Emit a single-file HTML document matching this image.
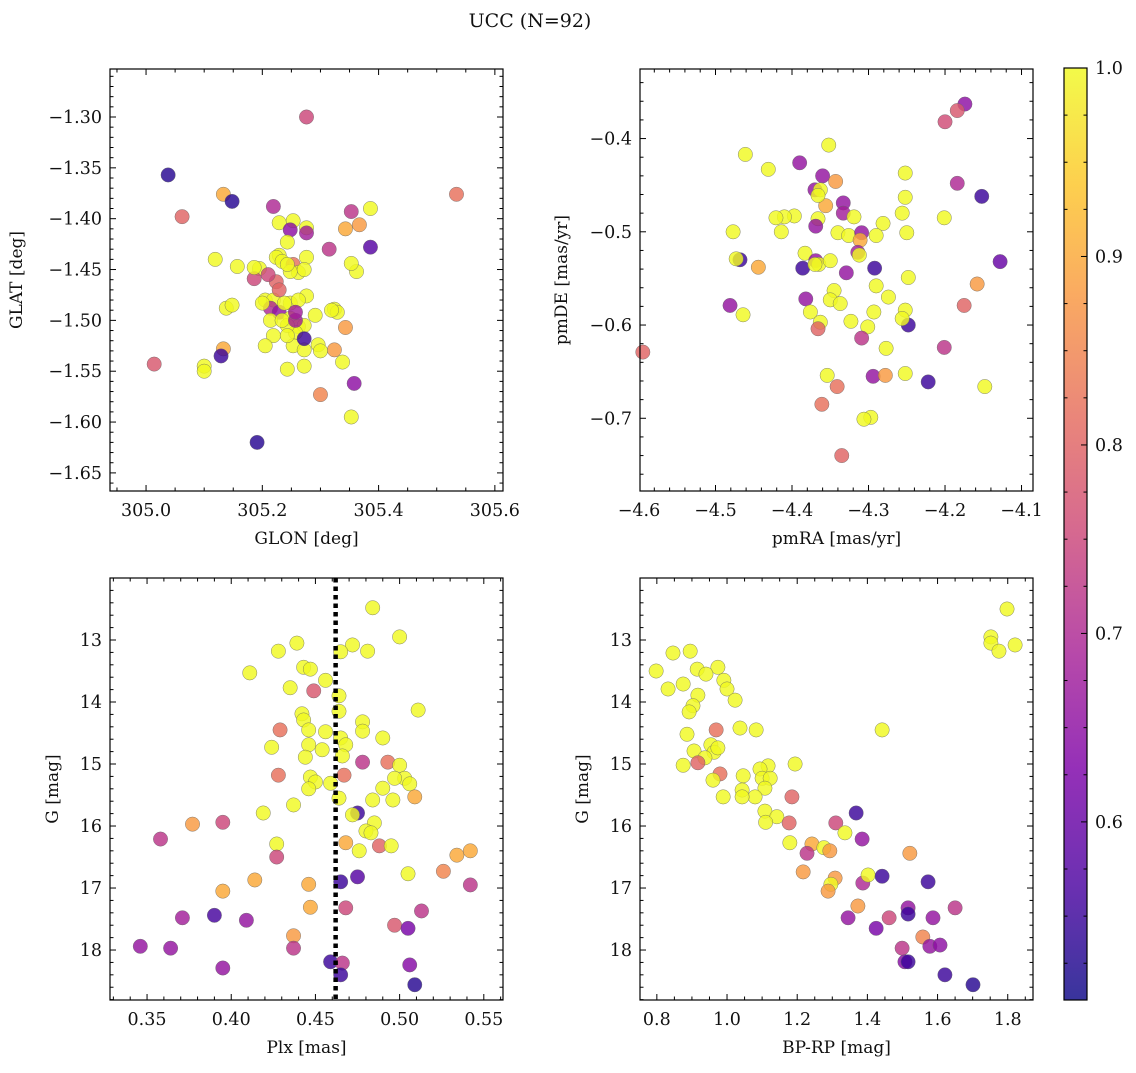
<!DOCTYPE html>
<html><head><meta charset="utf-8"><style>
html,body{margin:0;padding:0;background:#fff;}
svg text{font-family:"DejaVu Serif","Liberation Serif",serif;fill:#111;}
</style></head><body>
<svg id="chart" width="1136" height="1068" viewBox="0 0 1136 1068" xmlns="http://www.w3.org/2000/svg">
<defs>
<linearGradient id="plasma" x1="0" y1="1" x2="0" y2="0">
<stop offset="0" stop-color="#0d0887"/><stop offset="0.125" stop-color="#4c02a1"/><stop offset="0.25" stop-color="#7e03a8"/><stop offset="0.375" stop-color="#a82296"/><stop offset="0.5" stop-color="#cc4778"/><stop offset="0.625" stop-color="#e56b5d"/><stop offset="0.75" stop-color="#f89540"/><stop offset="0.875" stop-color="#fdc527"/><stop offset="1" stop-color="#f0f921"/>
</linearGradient>
</defs>
<text x="530" y="27" font-size="19" text-anchor="middle">UCC (N=92)</text>
</svg>
<script>
// ---------- data ----------
const glon=[305.276,305.038,305.133,305.148,305.062,305.534,305.219,305.386,305.353,305.367,305.343,305.253,305.229,305.276,305.276,305.248,305.315,305.386,305.195,305.243,305.229,305.224,305.234,305.253,305.262,305.248,305.276,305.243,305.272,305.186,305.224,305.205,305.219,305.214,305.229,305.248,305.276,305.324,305.329,305.319,305.214,305.248,305.262,305.272,305.257,305.243,305.219,305.253,305.272,305.296,305.324,305.343,305.338,305.362,305.353,305.138,305.148,305.133,305.129,305.100,305.100,305.119,305.014,305.243,305.272,305.300,305.300,305.358,305.353,305.191,305.234,305.238,305.229,305.262,305.200,305.272,305.210,305.157,305.186,305.291,305.205,305.257,305.257,305.243];
const glat=[-1.300,-1.357,-1.376,-1.383,-1.398,-1.376,-1.388,-1.390,-1.393,-1.406,-1.410,-1.402,-1.404,-1.409,-1.414,-1.411,-1.430,-1.428,-1.449,-1.423,-1.436,-1.438,-1.442,-1.445,-1.453,-1.452,-1.438,-1.445,-1.450,-1.459,-1.462,-1.480,-1.480,-1.488,-1.492,-1.483,-1.476,-1.489,-1.492,-1.490,-1.500,-1.498,-1.506,-1.505,-1.512,-1.505,-1.515,-1.525,-1.529,-1.524,-1.529,-1.507,-1.541,-1.452,-1.444,-1.488,-1.485,-1.528,-1.535,-1.545,-1.550,-1.440,-1.543,-1.548,-1.545,-1.530,-1.573,-1.562,-1.595,-1.620,-1.500,-1.483,-1.470,-1.480,-1.483,-1.518,-1.455,-1.447,-1.448,-1.495,-1.525,-1.500,-1.492,-1.515];
const prob1=[0.75,0.53,0.90,0.53,0.80,0.82,0.70,1,0.72,0.88,0.90,1,1,1,0.68,0.65,0.72,0.58,1,1,1,1,1,0.82,1,1,1,1,1,0.75,0.80,1,1,0.70,0.66,1,1,1,1,1,1,1,1,1,1,1,1,1,1,1,0.88,0.88,1,1,1,1,1,0.90,0.55,1,1,1,0.78,1,1,1,0.85,0.65,1,0.53,1,1,0.80,1,1,0.55,0.75,1,1,1,1,0.68,0.68,1];

const pmra=[-4.174,-4.200,-4.184,-4.461,-4.390,-4.352,-4.431,-4.360,-4.370,-4.363,-4.343,-4.252,-4.184,-4.152,-4.252,-4.256,-4.333,-4.356,-4.333,-4.366,-4.397,-4.410,-4.421,-4.477,-4.414,-4.366,-4.369,-4.340,-4.326,-4.309,-4.319,-4.281,-4.290,-4.311,-4.314,-4.312,-4.250,-4.201,-4.468,-4.473,-4.386,-4.383,-4.369,-4.365,-4.350,-4.370,-4.444,-4.292,-4.329,-4.345,-4.248,-4.290,-4.158,-4.350,-4.382,-4.274,-4.337,-4.481,-4.175,-4.128,-4.252,-4.293,-4.464,-4.376,-4.363,-4.323,-4.366,-4.301,-4.248,-4.256,-4.309,-4.277,-4.201,-4.595,-4.354,-4.294,-4.278,-4.252,-4.222,-4.341,-4.148,-4.361,-4.297,-4.306,-4.335];
const pmde=[-0.363,-0.382,-0.370,-0.417,-0.426,-0.407,-0.433,-0.440,-0.455,-0.455,-0.446,-0.437,-0.448,-0.462,-0.463,-0.480,-0.469,-0.472,-0.480,-0.461,-0.483,-0.484,-0.485,-0.500,-0.500,-0.486,-0.494,-0.501,-0.504,-0.501,-0.484,-0.491,-0.504,-0.509,-0.522,-0.525,-0.501,-0.485,-0.530,-0.529,-0.539,-0.523,-0.531,-0.535,-0.531,-0.535,-0.538,-0.539,-0.544,-0.563,-0.549,-0.558,-0.556,-0.573,-0.572,-0.570,-0.577,-0.579,-0.579,-0.532,-0.584,-0.586,-0.589,-0.586,-0.597,-0.596,-0.604,-0.602,-0.600,-0.593,-0.614,-0.625,-0.624,-0.629,-0.654,-0.655,-0.654,-0.652,-0.661,-0.666,-0.666,-0.685,-0.699,-0.701,-0.740];
const prob2=[0.65,0.76,0.78,1,0.66,1,1,0.66,0.66,1,0.88,1,0.70,0.55,1,1,0.66,0.90,0.68,1,1,1,1,1,1,1,0.66,1,1,0.66,1,1,1,0.90,0.68,1,1,1,0.55,1,0.55,1,0.66,1,1,1,0.90,0.55,0.66,1,1,1,0.88,1,0.66,1,1,0.66,0.80,0.60,1,1,1,1,1,1,0.80,1,0.55,1,0.72,1,0.72,0.80,1,0.66,0.88,1,0.55,0.82,1,0.82,1,1,0.80];

const plx=[0.484,0.500,0.472,0.439,0.428,0.465,0.481,0.411,0.443,0.447,0.456,0.435,0.449,0.464,0.464,0.511,0.442,0.443,0.478,0.429,0.446,0.456,0.465,0.478,0.446,0.424,0.454,0.468,0.490,0.444,0.478,0.493,0.466,0.500,0.447,0.428,0.467,0.503,0.506,0.497,0.450,0.459,0.446,0.490,0.509,0.437,0.419,0.464,0.484,0.496,0.475,0.472,0.485,0.358,0.377,0.395,0.480,0.483,0.427,0.488,0.495,0.468,0.427,0.476,0.534,0.542,0.465,0.414,0.526,0.395,0.475,0.542,0.505,0.446,0.447,0.468,0.371,0.390,0.409,0.513,0.437,0.437,0.497,0.505,0.346,0.364,0.395,0.459,0.466,0.465,0.506,0.509];
const gmagP=[12.48,12.95,13.08,13.05,13.18,13.19,13.18,13.53,13.44,13.47,13.65,13.77,13.82,13.90,14.15,14.13,14.19,14.29,14.32,14.45,14.45,14.48,14.58,14.47,14.69,14.73,14.77,14.69,14.58,14.89,14.97,14.97,14.87,15.02,15.21,15.18,15.18,15.23,15.32,15.23,15.29,15.31,15.40,15.39,15.53,15.66,15.79,15.55,15.58,15.58,15.79,15.82,15.95,16.21,15.97,15.94,16.08,16.11,16.29,16.32,16.32,16.27,16.50,16.40,16.47,16.40,16.90,16.87,16.73,17.05,16.82,16.95,16.77,16.94,17.31,17.32,17.48,17.44,17.52,17.37,17.77,17.97,17.60,17.65,17.94,17.97,18.29,18.19,18.21,18.40,18.24,18.56];
const prob3=[1,1,1,1,1,1,1,1,1,1,1,1,0.78,1,1,1,1,1,1,0.82,1,1,1,1,1,1,1,1,1,1,0.72,0.82,1,1,1,0.82,0.82,1,1,1,1,1,1,1,0.90,1,1,1,1,1,0.55,1,1,0.72,0.88,0.75,1,1,1,0.80,1,0.90,0.75,1,0.90,0.90,0.55,0.90,0.85,0.90,0.58,0.72,1,0.90,0.90,0.75,0.68,0.56,0.66,0.72,0.88,0.72,0.78,0.62,0.66,0.66,0.66,0.55,0.72,0.55,0.64,0.53];
const plxRef=[0.462];

const bprp=[1.798,1.752,1.752,1.775,1.821,0.846,0.895,0.798,0.974,0.915,0.940,0.991,0.832,0.875,1.000,0.917,1.023,0.903,0.892,1.037,1.083,1.442,0.969,0.886,0.954,0.963,0.974,0.906,0.937,0.917,0.875,1.117,1.094,1.194,1.100,1.046,1.123,0.980,0.960,1.043,1.108,1.080,1.043,0.989,1.185,1.108,1.142,1.110,1.177,1.310,1.368,1.336,1.385,1.179,1.242,1.276,1.293,1.228,1.521,1.217,1.308,1.296,1.288,1.387,1.402,1.442,1.573,1.373,1.345,1.462,1.516,1.516,1.650,1.587,1.425,1.558,1.499,1.578,1.607,1.507,1.516,1.621,1.701];
const gmagC=[12.50,12.95,13.05,13.18,13.08,13.21,13.18,13.50,13.44,13.47,13.55,13.65,13.79,13.71,13.79,13.89,13.97,14.06,14.16,14.42,14.45,14.45,14.45,14.52,14.69,14.81,14.74,14.79,14.90,14.98,15.02,15.03,15.08,15.00,15.23,15.19,15.23,15.16,15.26,15.42,15.39,15.53,15.53,15.53,15.53,15.76,15.85,15.94,15.95,15.95,15.79,16.11,16.21,16.27,16.29,16.35,16.40,16.44,16.44,16.74,16.84,16.94,17.05,16.92,16.79,16.81,16.90,17.29,17.48,17.48,17.32,17.42,17.32,17.48,17.65,17.79,17.97,17.94,17.92,18.19,18.19,18.40,18.56];
const prob4=[1,1,1,1,1,1,1,1,1,1,1,1,1,1,1,1,1,1,1,1,1,1,0.82,1,1,1,1,1,1,0.80,1,1,1,1,1,1,1,0.82,1,1,1,1,1,1,0.80,1,1,1,0.80,0.75,0.55,1,0.66,1,0.90,1,0.88,0.72,0.88,0.88,0.88,1,0.88,0.70,1,0.55,0.55,0.88,0.66,0.75,0.66,0.55,0.72,0.66,0.62,0.85,0.72,0.66,0.65,0.64,0.55,0.55,0.53];

const cbTicks=[0.6,0.7,0.8,0.9,1.0];
const xt1=[305.0,305.2,305.4,305.6], yt1=[-1.30,-1.35,-1.40,-1.45,-1.50,-1.55,-1.60,-1.65];
const xt2=[-4.6,-4.5,-4.4,-4.3,-4.2,-4.1], yt2=[-0.4,-0.5,-0.6,-0.7];
const xt3=[0.35,0.40,0.45,0.50,0.55], yt3=[13,14,15,16,17,18];
const xt4=[0.8,1.0,1.2,1.4,1.6,1.8];

// ---------- helpers ----------
const NS="http://www.w3.org/2000/svg";
const svg=document.getElementById('chart');
function mk(tag,attrs,parent){const e=document.createElementNS(NS,tag);for(const k in attrs)e.setAttribute(k,attrs[k]);(parent||svg).appendChild(e);return e;}
const stops=[[0,[13,8,135]],[0.125,[76,2,161]],[0.25,[126,3,168]],[0.375,[168,34,150]],[0.5,[204,71,120]],[0.625,[229,107,93]],[0.75,[248,149,64]],[0.875,[253,197,39]],[1,[240,249,33]]];
const VMIN=0.5055,VMAX=1.0;
function cmap(p){let t=(p-VMIN)/(VMAX-VMIN);t=Math.max(0,Math.min(1,t));for(let i=1;i<stops.length;i++){if(t<=stops[i][0]){const a=stops[i-1],b=stops[i],f=(t-a[0])/(b[0]-a[0]);const c=a[1].map((v,j)=>Math.round(v+(b[1][j]-v)*f));return `rgb(${c[0]},${c[1]},${c[2]})`;}}return 'rgb(240,249,33)';}
function lin(d0,d1,r0,r1){return v=>r0+(v-d0)/(d1-d0)*(r1-r0);}
function fmt(v,d){return (v<0?'\u2212':'')+Math.abs(v).toFixed(d);}

function panel(o){
  const g=mk('g',{});
  
  
  const X=lin(o.xd[0],o.xd[1],o.x0,o.x1), Y=lin(o.yd[0],o.yd[1],o.y0,o.y1);
  const pts=mk('g',{},g);
  
  
  for(let i=0;i<o.xs.length;i++){
    const c=mk('circle',{cx:X(o.xs[i]),cy:Y(o.ys[i]),r:7.2,fill:cmap(o.ps[i]),'fill-opacity':0.82,stroke:'#666','stroke-width':0.5,'stroke-opacity':0.8},pts);
    
    
  }
  if(o.extra)o.extra(g,X,Y);
  const fr=mk('rect',{x:o.x0,y:o.y0,width:o.x1-o.x0,height:o.y1-o.y0,fill:'none',stroke:'#000','stroke-width':1.2},g);
  
  
  const tk=mk('g',{stroke:'#000','stroke-width':1},g);
  
  
  const eps=1e-9;
  for(let v=Math.ceil(o.xd[0]/o.xmin-eps)*o.xmin; v<=o.xd[1]+eps; v+=o.xmin){
    const px=X(v); const major=o.xt.some(t=>Math.abs(t-v)<o.xmin/3);
    const L=major?6:3.5;
    mk('line',{x1:px,y1:o.y1,x2:px,y2:o.y1-L},tk); mk('line',{x1:px,y1:o.y0,x2:px,y2:o.y0+L},tk);
  }
  for(let v=Math.ceil(Math.min(o.yd[0],o.yd[1])/o.ymin-eps)*o.ymin; v<=Math.max(o.yd[0],o.yd[1])+eps; v+=o.ymin){
    const py=Y(v); const major=o.yt.some(t=>Math.abs(t-v)<o.ymin/3);
    const L=major?6:3.5;
    mk('line',{x1:o.x0,y1:py,x2:o.x0+L,y2:py},tk); mk('line',{x1:o.x1,y1:py,x2:o.x1-L,y2:py},tk);
  }
  o.xt.forEach(t=>{const e=mk('text',{x:X(t),y:o.y1+25,'font-size':17.5,'text-anchor':'middle'},g);e.textContent=fmt(t,o.xdec);
    
    });
  o.yt.forEach(t=>{const e=mk('text',{x:o.x0-8,y:Y(t)+6,'font-size':17.5,'text-anchor':'end'},g);e.textContent=fmt(t,o.ydec);
    
    });
  const xl=mk('text',{x:(o.x0+o.x1)/2,y:o.y1+53,'font-size':17,'text-anchor':'middle'},g);xl.textContent=o.xlabel;
  
  
  const yl=mk('text',{x:o.ylx,y:(o.y0+o.y1)/2,'font-size':17,'text-anchor':'middle',transform:`rotate(-90 ${o.ylx} ${(o.y0+o.y1)/2})`},g);yl.textContent=o.ylabel;
  
  
}

panel({name:'glon-glat-panel',x0:110,x1:503,y0:69,y1:491,xd:[304.938,305.614],yd:[-1.2528,-1.6678],xs:glon,ys:glat,ps:prob1,xt:xt1,yt:yt1,xmin:0.05,ymin:0.01,xdec:1,ydec:2,xlabel:'GLON [deg]',ylabel:'GLAT [deg]',ylx:22});
panel({name:'pm-panel',x0:640,x1:1033,y0:69,y1:491,xd:[-4.5987,-4.085],yd:[-0.3254,-0.778],xs:pmra,ys:pmde,ps:prob2,xt:xt2,yt:yt2,xmin:0.02,ymin:0.02,xdec:1,ydec:1,xlabel:'pmRA [mas/yr]',ylabel:'pmDE [mas/yr]',ylx:567});
panel({name:'plx-g-panel',x0:110,x1:503,y0:578,y1:1000,xd:[0.328,0.5614],yd:[12.0,18.806],xs:plx,ys:gmagP,ps:prob3,xt:xt3,yt:yt3,xmin:0.01,ymin:0.2,xdec:2,ydec:0,xlabel:'Plx [mas]',ylabel:'G [mag]',ylx:58,
  extra:(g,X,Y)=>{const l=mk('line',{x1:X(plxRef[0]),x2:X(plxRef[0]),y1:Y(12.0),y2:Y(18.806),stroke:'#000','stroke-width':4.5,'stroke-dasharray':'4.5,4'},g);
    
    }});
panel({name:'cmd-panel',x0:640,x1:1033,y0:578,y1:1000,xd:[0.752,1.872],yd:[12.0,18.806],xs:bprp,ys:gmagC,ps:prob4,xt:xt4,yt:yt3,xmin:0.05,ymin:0.2,xdec:1,ydec:0,xlabel:'BP-RP [mag]',ylabel:'G [mag]',ylx:588});

(function(){
  const g=mk('g',{});
  
  
  const x0=1064,x1=1087,y0=68,y1=1000;
  const Y=lin(VMIN,VMAX,y1,y0);
  mk('rect',{x:x0,y:y0,width:x1-x0,height:y1-y0,fill:'url(#plasma)','fill-opacity':0.82},g);
  mk('rect',{x:x0,y:y0,width:x1-x0,height:y1-y0,fill:'none',stroke:'#000','stroke-width':1.2},g);
  for(let v=0.525;v<=1.0001;v+=0.025){const py=Y(v);const major=cbTicks.some(t=>Math.abs(t-v)<0.005);
    mk('line',{x1:x1,x2:x1-(major?6:3.5),y1:py,y2:py,stroke:'#000','stroke-width':1},g);
    mk('line',{x1:x0,x2:x0+(major?0:3.5),y1:py,y2:py,stroke:'#000','stroke-width':1},g);}
  cbTicks.forEach(t=>{const e=mk('text',{x:x1+8,y:Y(t)+6,'font-size':17.5},g);e.textContent=t.toFixed(1);
    
    });
})();
</script>
</body></html>
